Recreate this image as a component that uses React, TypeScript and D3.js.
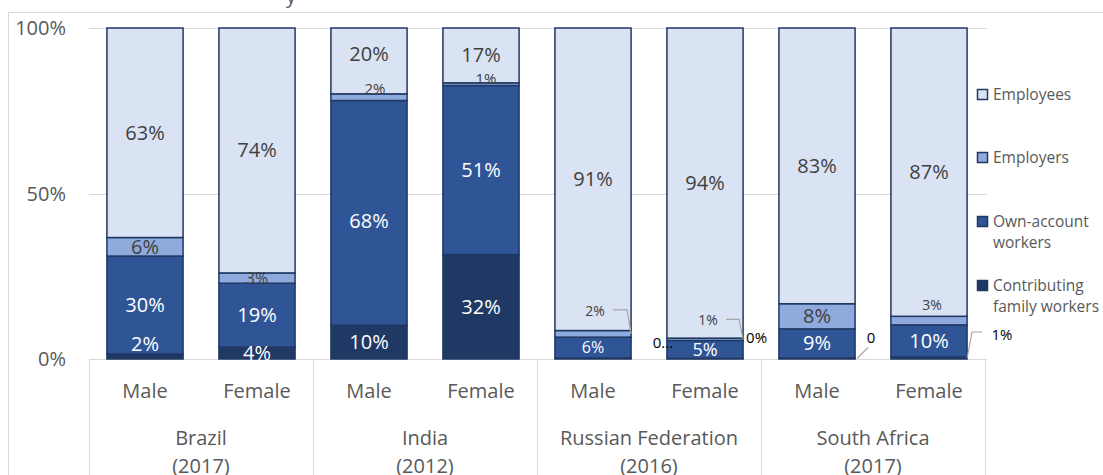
import React, { useEffect, useRef } from 'react';
import * as d3 from 'd3';

// bars: 4 countries x (male, female)
const genders = ['Male', 'Female', 'Male', 'Female', 'Male', 'Female', 'Male', 'Female'];
const countries = ['Brazil', 'India', 'Russian Federation', 'South Africa'];
const years = ['(2017)', '(2012)', '(2016)', '(2017)'];

// shares in %
const employees = [63.3, 74.0, 19.9, 16.6, 91.4, 93.7, 83.3, 87.1];
const employers = [5.6, 3.1, 2.0, 0.8, 2.0, 0.7, 7.6, 2.6];
const ownAccount = [29.6, 19.3, 67.9, 51.2, 6.3, 5.4, 8.8, 9.7];
const contributing = [1.5, 3.6, 10.2, 31.6, 0.3, 0.2, 0.3, 0.6];

const keys = ['cont', 'own', 'emp', 'ee'];
const legendLines: Record<string, string[]> = {
  ee: ['Employees'],
  emp: ['Employers'],
  own: ['Own-account', 'workers'],
  cont: ['Contributing', 'family workers'],
};
const colors: Record<string, string> = { ee: '#dae3f3', emp: '#8faadc', own: '#2f5597', cont: '#203864' };
const labelColors: Record<string, string> = { ee: '#404040', emp: '#404040', own: '#ffffff', cont: '#ffffff' };

// hand-moved labels (as in the original workbook)
type Tweak = { dx?: number; dy?: number; size?: number; text?: string; color?: string; anchor?: string; leader?: string };
const tweaks: Record<string, Tweak> = {
  'cont-0': { dy: -13 },
  'ee-2': { dy: -7 },
  'own-2': { dy: 8 },
  'emp-2': { dx: 6, dy: -8, size: 15 },
  'emp-3': { dx: 5, dy: -5, size: 15 },
  'emp-1': { size: 16 },
  'emp-4': { dx: 2, dy: -23, size: 14, leader: 'in' },
  'own-4': { size: 16 },
  'own-5': { size: 18 },
  'cont-4': { dx: 70, dy: -16, size: 15, text: '0...', color: '#000' },
  'emp-5': { dx: 3, dy: -19, size: 14, leader: 'in' },
  'cont-5': { dx: 41, dy: -21, size: 15, color: '#000', anchor: 'start' },
  'cont-6': { dx: 54, dy: -21, size: 15, text: '0', color: '#000', leader: 'diag' },
  'emp-7': { dx: 3, dy: -16, size: 14 },
  'cont-7': { dx: 73, dy: -23, size: 15, color: '#000', leader: 'out' },
};

const App = () => {
  const svgRef = useRef<SVGSVGElement>(null);

  useEffect(() => {
    const svg = d3.select(svgRef.current);
    svg.selectAll('*').remove();
    const font = '"Open Sans", Lato, sans-serif';
    const grey = '#595959';

    const x = d3.scaleBand<number>()
      .domain(d3.range(genders.length))
      .range([89, 985])
      .paddingInner(0.32)
      .paddingOuter(0.16);
    const y = d3.scaleLinear().domain([0, 1]).range([359, 28]);

    // chart border (cut by the page edges)
    svg.append('path')
      .attr('d', 'M8.5,475V12.5H1103')
      .attr('fill', 'none')
      .attr('stroke', '#d9d9d9');

    // clipped title: only the tail of a "y" is visible
    svg.append('text')
      .attr('x', 291).attr('y', 3)
      .attr('text-anchor', 'middle')
      .attr('font-family', font).attr('font-size', 20)
      .attr('fill', grey)
      .text('y');

    // gridlines + y labels
    const ticks = [0, 0.5, 1];
    svg.append('g').selectAll('line').data(ticks).enter().append('line')
      .attr('x1', 89).attr('x2', 987)
      .attr('y1', d => Math.round(y(d)) + 0.5).attr('y2', d => Math.round(y(d)) + 0.5)
      .attr('stroke', '#d9d9d9');
    svg.append('g').selectAll('text').data(ticks).enter().append('text')
      .attr('x', 66).attr('y', d => y(d))
      .attr('dy', '0.35em')
      .attr('text-anchor', 'end')
      .attr('font-family', font).attr('font-size', 20)
      .attr('fill', grey)
      .text(d => d3.format('.0%')(d));

    // multi-level category axis
    const axis = svg.append('g');
    d3.range(0, genders.length + 1, 2).forEach(i => {
      const xx = i === genders.length ? 985.5 : Math.round(x(i)! - x.step() * 0.16) + 0.5;
      axis.append('line')
        .attr('x1', xx).attr('x2', xx).attr('y1', 359).attr('y2', 475)
        .attr('stroke', '#d9d9d9');
    });
    axis.selectAll('text.g').data(genders).enter().append('text')
      .attr('x', (d, i) => x(i)! + x.bandwidth() / 2)
      .attr('y', 391).attr('dy', '0.35em')
      .attr('text-anchor', 'middle')
      .attr('font-family', font).attr('font-size', 20).attr('fill', grey)
      .text(d => d);
    countries.forEach((c, j) => {
      const cx = (x(j * 2)! + x(j * 2 + 1)! + x.bandwidth()) / 2;
      axis.append('text')
        .attr('x', cx).attr('y', 438).attr('dy', '0.35em')
        .attr('text-anchor', 'middle')
        .attr('font-family', font).attr('font-size', 20).attr('fill', grey)
        .text(c);
      axis.append('text')
        .attr('x', cx).attr('y', 466).attr('dy', '0.35em')
        .attr('text-anchor', 'middle')
        .attr('font-family', font).attr('font-size', 20).attr('fill', grey)
        .text(years[j]);
    });

    // stacked 100% bars
    const rows = genders.map((g, i) => ({
      cont: contributing[i], own: ownAccount[i], emp: employers[i], ee: employees[i],
    }));
    const raw: Record<string, number[]> = { cont: contributing, own: ownAccount, emp: employers, ee: employees };
    const stacked = d3.stack<any>().keys(keys).offset(d3.stackOffsetExpand)(rows);

    const bars = svg.append('g');
    stacked.forEach(layer => {
      bars.append('g').selectAll('rect').data(layer).enter().append('rect')
        .attr('x', (d, i) => x(i)!)
        .attr('width', x.bandwidth())
        .attr('y', d => y(d[1]))
        .attr('height', d => y(d[0]) - y(d[1]))
        .attr('fill', colors[layer.key])
        .attr('stroke', '#203864')
        .attr('stroke-width', 1.5);
    });

    // data labels
    const labels = svg.append('g');
    stacked.forEach(layer => {
      layer.forEach((d, i) => {
        const k = layer.key;
        const t = tweaks[`${k}-${i}`] || {};
        const cx = x(i)! + x.bandwidth() / 2;
        const segMid = (y(d[0]) + y(d[1])) / 2;
        const lx = cx + (t.dx || 0);
        const ly = segMid + (t.dy || 0);
        const right = x(i)! + x.bandwidth();
        if (t.leader) {
          let pts: [number, number][] = [];
          if (t.leader === 'in') pts = [[lx + 18, ly - 1], [right - 4, ly - 1], [right, segMid]];
          if (t.leader === 'out') pts = [[right, segMid], [right + 5, ly - 3], [right + 15, ly - 3]];
          if (t.leader === 'diag') pts = [[right + 2, segMid], [lx - 3, ly + 10]];
          labels.append('path')
            .attr('d', d3.line()(pts))
            .attr('fill', 'none')
            .attr('stroke', '#a6a6a6')
            .attr('stroke-width', 1.2);
        }
        labels.append('text')
          .attr('x', t.anchor === 'start' ? right + 3 : lx)
          .attr('y', ly).attr('dy', '0.35em')
          .attr('text-anchor', t.anchor || 'middle')
          .attr('font-family', font)
          .attr('font-size', t.size || 20)
          .attr('fill', t.color || labelColors[k])
          .text(t.text || `${Math.round(raw[k][i])}%`);
      });
    });

    // legend
    const legendY: Record<string, number> = { ee: 95, emp: 158, own: 222, cont: 286 };
    const legend = svg.append('g');
    ['ee', 'emp', 'own', 'cont'].forEach(k => {
      legend.append('rect')
        .attr('x', 977.5).attr('y', legendY[k] - 5.5)
        .attr('width', 10).attr('height', 10)
        .attr('fill', colors[k])
        .attr('stroke', '#203864').attr('stroke-width', 1.5);
      legendLines[k].forEach((line, j) => {
        legend.append('text')
          .attr('x', 993).attr('y', legendY[k] + j * 21).attr('dy', '0.35em')
          .attr('font-family', font).attr('font-size', 15.5).attr('fill', grey)
          .text(line);
      });
    });
  }, []);

  return (
    <svg
      ref={svgRef}
      width={1103}
      height={475}
      style={{ position: 'absolute', left: 0, top: 0, background: '#fff' }}
    />
  );
};

export default App;
